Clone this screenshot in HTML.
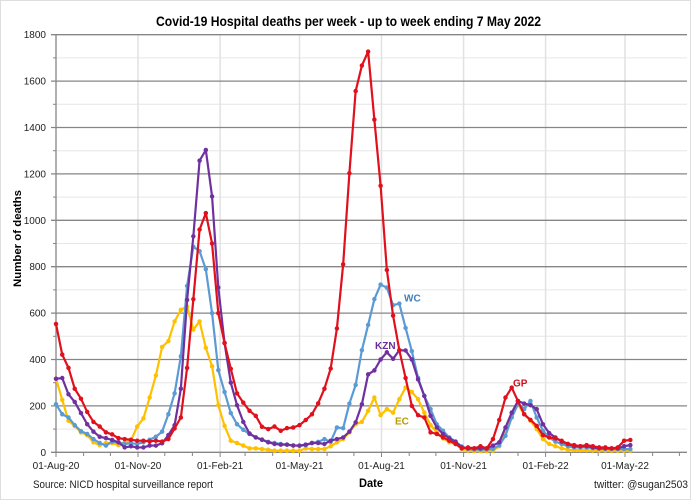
<!DOCTYPE html>
<html><head><meta charset="utf-8"><style>
html,body{margin:0;padding:0;background:#fff;}
svg{display:block;font-family:"Liberation Sans",Arial,sans-serif;}
</style></head><body>
<svg width="696" height="500" viewBox="0 0 696 500" xmlns="http://www.w3.org/2000/svg">
<rect x="0" y="0" width="696" height="500" fill="#fff"/>
<rect x="0.5" y="0.5" width="690" height="499" fill="none" stroke="#dedede" stroke-width="1"/>
<text x="156" y="25.8" font-size="14" font-weight="bold" fill="#000" textLength="385" lengthAdjust="spacingAndGlyphs">Covid-19 Hospital deaths per week - up to week ending 7 May 2022</text>
<!-- minor gridlines -->
<g stroke="#e6e6e6" stroke-width="1">
<line x1="56" x2="687" y1="429.1" y2="429.1"/><line x1="56" x2="687" y1="382.7" y2="382.7"/><line x1="56" x2="687" y1="336.3" y2="336.3"/><line x1="56" x2="687" y1="289.9" y2="289.9"/><line x1="56" x2="687" y1="243.5" y2="243.5"/><line x1="56" x2="687" y1="197.1" y2="197.1"/><line x1="56" x2="687" y1="150.7" y2="150.7"/><line x1="56" x2="687" y1="104.3" y2="104.3"/><line x1="56" x2="687" y1="57.9" y2="57.9"/>
</g>
<g stroke="#e2e2e2" stroke-width="1.5">
<line x1="138" x2="138" y1="34.7" y2="452.3"/><line x1="220.1" x2="220.1" y1="34.7" y2="452.3"/><line x1="299.5" x2="299.5" y1="34.7" y2="452.3"/><line x1="381.5" x2="381.5" y1="34.7" y2="452.3"/><line x1="463.6" x2="463.6" y1="34.7" y2="452.3"/><line x1="545.6" x2="545.6" y1="34.7" y2="452.3"/><line x1="625" x2="625" y1="34.7" y2="452.3"/>
</g>
<!-- major gridlines -->
<g stroke="#868686" stroke-width="1.3">
<line x1="51" x2="687" y1="405.9" y2="405.9"/><line x1="51" x2="687" y1="359.5" y2="359.5"/><line x1="51" x2="687" y1="313.1" y2="313.1"/><line x1="51" x2="687" y1="266.7" y2="266.7"/><line x1="51" x2="687" y1="220.3" y2="220.3"/><line x1="51" x2="687" y1="173.9" y2="173.9"/><line x1="51" x2="687" y1="127.5" y2="127.5"/><line x1="51" x2="687" y1="81.1" y2="81.1"/><line x1="51" x2="687" y1="34.7" y2="34.7"/>
<line x1="51" x2="687" y1="452.3" y2="452.3"/>
<line x1="56" x2="56" y1="34.7" y2="452.3"/>
</g>
<!-- minor y ticks -->
<g stroke="#868686" stroke-width="1">
<line x1="53" x2="56" y1="429.1" y2="429.1"/><line x1="53" x2="56" y1="382.7" y2="382.7"/><line x1="53" x2="56" y1="336.3" y2="336.3"/><line x1="53" x2="56" y1="289.9" y2="289.9"/><line x1="53" x2="56" y1="243.5" y2="243.5"/><line x1="53" x2="56" y1="197.1" y2="197.1"/><line x1="53" x2="56" y1="150.7" y2="150.7"/><line x1="53" x2="56" y1="104.3" y2="104.3"/><line x1="53" x2="56" y1="57.9" y2="57.9"/>
</g>
<!-- x ticks -->
<g stroke="#868686" stroke-width="1">
<line x1="56" x2="56" y1="452" y2="457"/><line x1="83.6" x2="83.6" y1="452" y2="456"/><line x1="110.4" x2="110.4" y1="452" y2="456"/><line x1="138" x2="138" y1="452" y2="457"/><line x1="164.8" x2="164.8" y1="452" y2="456"/><line x1="192.4" x2="192.4" y1="452" y2="456"/><line x1="220.1" x2="220.1" y1="452" y2="457"/><line x1="245.1" x2="245.1" y1="452" y2="456"/><line x1="272.7" x2="272.7" y1="452" y2="456"/><line x1="299.5" x2="299.5" y1="452" y2="457"/><line x1="327.1" x2="327.1" y1="452" y2="456"/><line x1="353.9" x2="353.9" y1="452" y2="456"/><line x1="381.5" x2="381.5" y1="452" y2="457"/><line x1="409.2" x2="409.2" y1="452" y2="456"/><line x1="435.9" x2="435.9" y1="452" y2="456"/><line x1="463.6" x2="463.6" y1="452" y2="457"/><line x1="490.3" x2="490.3" y1="452" y2="456"/><line x1="518" x2="518" y1="452" y2="456"/><line x1="545.6" x2="545.6" y1="452" y2="457"/><line x1="570.6" x2="570.6" y1="452" y2="456"/><line x1="598.2" x2="598.2" y1="452" y2="456"/><line x1="625" x2="625" y1="452" y2="457"/><line x1="652.6" x2="652.6" y1="452" y2="456"/><line x1="679.4" x2="679.4" y1="452" y2="456"/>
</g>
<!-- y labels -->
<g font-size="10" fill="#222" text-anchor="end">
<text x="46" y="455.8">0</text><text x="46" y="409.4">200</text><text x="46" y="363">400</text><text x="46" y="316.6">600</text><text x="46" y="270.2">800</text><text x="46" y="223.8">1000</text><text x="46" y="177.4">1200</text><text x="46" y="131">1400</text><text x="46" y="84.6">1600</text><text x="46" y="38.2">1800</text>
</g>
<!-- x labels -->
<g font-size="10" fill="#222" text-anchor="middle">
<text x="56" y="469">01-Aug-20</text><text x="138" y="469">01-Nov-20</text><text x="220.1" y="469">01-Feb-21</text><text x="299.5" y="469">01-May-21</text><text x="381.5" y="469">01-Aug-21</text><text x="463.6" y="469">01-Nov-21</text><text x="545.6" y="469">01-Feb-22</text><text x="625" y="469">01-May-22</text>
</g>
<text transform="translate(21,287) rotate(-90)" font-size="11" font-weight="bold" fill="#000" textLength="97" lengthAdjust="spacingAndGlyphs">Number of deaths</text>
<text x="359" y="487" font-size="12" font-weight="bold" fill="#000" textLength="24" lengthAdjust="spacingAndGlyphs">Date</text>
<text x="33" y="488" font-size="11" fill="#222" textLength="180" lengthAdjust="spacingAndGlyphs">Source: NICD hospital surveillance report</text>
<text x="594" y="488" font-size="11" fill="#222" textLength="94" lengthAdjust="spacingAndGlyphs">twitter: @sugan2503</text>
<!-- series -->
<g transform="translate(56,452.3) scale(6.2426,-0.232)" fill="none" stroke-linejoin="round">
<polyline vector-effect="non-scaling-stroke" stroke="#ffc000" stroke-width="2.2" points="0,317 1,226 2,136 3,114 4,86 5,74 6,43 7,31 8,40 9,40 10,31 11,43 12,50 13,111 14,146 15,236 16,331 17,454 18,479 19,564 20,614 21,629 22,529 23,564 24,450 25,371 26,203 27,114 28,50 29,40 30,29 31,17 32,17 33,14 34,11 35,7 36,7 37,7 38,7 39,7 40,17 41,14 42,14 43,14 44,26 45,43 46,57 47,86 48,121 49,131 50,179 51,236 52,160 53,186 54,171 55,229 56,279 57,260 58,229 59,171 60,117 61,86 62,60 63,43 64,36 65,15 66,7 67,5 68,5 69,5 70,7 71,26 72,93 73,157 74,207 75,164 76,136 77,100 78,57 79,36 80,26 81,17 82,11 83,10 84,9 85,9 86,8 87,8 88,8 89,7 90,7 91,7 92,7"/>
<path vector-effect="non-scaling-stroke" stroke="#ffc000" stroke-width="4.5" stroke-linecap="round" d="M0,317h0M1,226h0M2,136h0M3,114h0M4,86h0M5,74h0M6,43h0M7,31h0M8,40h0M9,40h0M10,31h0M11,43h0M12,50h0M13,111h0M14,146h0M15,236h0M16,331h0M17,454h0M18,479h0M19,564h0M20,614h0M21,629h0M22,529h0M23,564h0M24,450h0M25,371h0M26,203h0M27,114h0M28,50h0M29,40h0M30,29h0M31,17h0M32,17h0M33,14h0M34,11h0M35,7h0M36,7h0M37,7h0M38,7h0M39,7h0M40,17h0M41,14h0M42,14h0M43,14h0M44,26h0M45,43h0M46,57h0M47,86h0M48,121h0M49,131h0M50,179h0M51,236h0M52,160h0M53,186h0M54,171h0M55,229h0M56,279h0M57,260h0M58,229h0M59,171h0M60,117h0M61,86h0M62,60h0M63,43h0M64,36h0M65,15h0M66,7h0M67,5h0M68,5h0M69,5h0M70,7h0M71,26h0M72,93h0M73,157h0M74,207h0M75,164h0M76,136h0M77,100h0M78,57h0M79,36h0M80,26h0M81,17h0M82,11h0M83,10h0M84,9h0M85,9h0M86,8h0M87,8h0M88,8h0M89,7h0M90,7h0M91,7h0M92,7h0"/>
<polyline vector-effect="non-scaling-stroke" stroke="#5b9bd5" stroke-width="2.2" points="0,207 1,164 2,150 3,117 4,91 5,79 6,57 7,40 8,29 9,46 10,43 11,36 12,39 13,36 14,43 15,54 16,67 17,89 18,164 19,254 20,414 21,717 22,886 23,867 24,789 25,600 26,354 27,260 28,169 29,121 30,97 31,79 32,65 33,55 34,45 35,40 36,36 37,33 38,30 39,28 40,30 41,40 42,45 43,57 44,45 45,107 46,104 47,210 48,290 49,440 50,549 51,660 52,723 53,710 54,634 55,641 56,536 57,436 58,321 59,243 60,186 61,121 62,93 63,64 64,46 65,25 66,15 67,12 68,12 69,12 70,15 71,30 72,71 73,150 74,207 75,186 76,221 77,150 78,93 79,64 80,46 81,36 82,26 83,21 84,21 85,21 86,18 87,17 88,15 89,14 90,14 91,14 92,14"/>
<path vector-effect="non-scaling-stroke" stroke="#5b9bd5" stroke-width="4.5" stroke-linecap="round" d="M0,207h0M1,164h0M2,150h0M3,117h0M4,91h0M5,79h0M6,57h0M7,40h0M8,29h0M9,46h0M10,43h0M11,36h0M12,39h0M13,36h0M14,43h0M15,54h0M16,67h0M17,89h0M18,164h0M19,254h0M20,414h0M21,717h0M22,886h0M23,867h0M24,789h0M25,600h0M26,354h0M27,260h0M28,169h0M29,121h0M30,97h0M31,79h0M32,65h0M33,55h0M34,45h0M35,40h0M36,36h0M37,33h0M38,30h0M39,28h0M40,30h0M41,40h0M42,45h0M43,57h0M44,45h0M45,107h0M46,104h0M47,210h0M48,290h0M49,440h0M50,549h0M51,660h0M52,723h0M53,710h0M54,634h0M55,641h0M56,536h0M57,436h0M58,321h0M59,243h0M60,186h0M61,121h0M62,93h0M63,64h0M64,46h0M65,25h0M66,15h0M67,12h0M68,12h0M69,12h0M70,15h0M71,30h0M72,71h0M73,150h0M74,207h0M75,186h0M76,221h0M77,150h0M78,93h0M79,64h0M80,46h0M81,36h0M82,26h0M83,21h0M84,21h0M85,21h0M86,18h0M87,17h0M88,15h0M89,14h0M90,14h0M91,14h0M92,14h0"/>
<polyline vector-effect="non-scaling-stroke" stroke="#7030a0" stroke-width="2.2" points="0,317 1,320 2,250 3,217 4,169 5,121 6,89 7,67 8,61 9,53 10,43 11,21 12,26 13,21 14,21 15,29 16,29 17,39 18,74 19,117 20,274 21,657 22,931 23,1257 24,1303 25,1103 26,710 27,471 28,300 29,203 30,131 31,81 32,64 33,54 34,43 35,36 36,33 37,33 38,29 39,29 40,33 41,40 42,40 43,36 44,50 45,57 46,64 47,89 48,129 49,207 50,336 51,353 52,400 53,431 54,403 55,440 56,439 57,400 58,314 59,243 60,157 61,107 62,79 63,60 64,46 65,21 66,17 67,17 68,17 69,17 70,29 71,43 72,107 73,171 74,221 75,210 76,203 77,186 78,121 79,83 80,64 81,46 82,36 83,26 84,26 85,26 86,21 87,17 88,17 89,17 90,17 91,26 92,31"/>
<path vector-effect="non-scaling-stroke" stroke="#7030a0" stroke-width="4.5" stroke-linecap="round" d="M0,317h0M1,320h0M2,250h0M3,217h0M4,169h0M5,121h0M6,89h0M7,67h0M8,61h0M9,53h0M10,43h0M11,21h0M12,26h0M13,21h0M14,21h0M15,29h0M16,29h0M17,39h0M18,74h0M19,117h0M20,274h0M21,657h0M22,931h0M23,1257h0M24,1303h0M25,1103h0M26,710h0M27,471h0M28,300h0M29,203h0M30,131h0M31,81h0M32,64h0M33,54h0M34,43h0M35,36h0M36,33h0M37,33h0M38,29h0M39,29h0M40,33h0M41,40h0M42,40h0M43,36h0M44,50h0M45,57h0M46,64h0M47,89h0M48,129h0M49,207h0M50,336h0M51,353h0M52,400h0M53,431h0M54,403h0M55,440h0M56,439h0M57,400h0M58,314h0M59,243h0M60,157h0M61,107h0M62,79h0M63,60h0M64,46h0M65,21h0M66,17h0M67,17h0M68,17h0M69,17h0M70,29h0M71,43h0M72,107h0M73,171h0M74,221h0M75,210h0M76,203h0M77,186h0M78,121h0M79,83h0M80,64h0M81,46h0M82,36h0M83,26h0M84,26h0M85,26h0M86,21h0M87,17h0M88,17h0M89,17h0M90,17h0M91,26h0M92,31h0"/>
<polyline vector-effect="non-scaling-stroke" stroke="#e0101c" stroke-width="2.2" points="0,553 1,421 2,364 3,274 4,231 5,174 6,131 7,111 8,86 9,77 10,61 11,57 12,54 13,50 14,50 15,47 16,50 17,46 18,57 19,103 20,150 21,364 22,660 23,960 24,1031 25,900 26,600 27,471 28,360 29,254 30,214 31,179 32,157 33,110 34,100 35,111 36,93 37,104 38,107 39,117 40,139 41,164 42,211 43,274 44,361 45,534 46,810 47,1203 48,1557 49,1667 50,1727 51,1434 52,1149 53,786 54,589 55,440 56,320 57,200 58,160 59,150 60,86 61,79 62,64 63,50 64,36 65,17 66,21 67,17 68,26 69,17 70,57 71,139 72,236 73,279 74,221 75,164 76,140 77,114 78,74 79,64 80,60 81,50 82,36 83,31 84,26 85,31 86,26 87,21 88,21 89,17 90,21 91,50 92,53"/>
<path vector-effect="non-scaling-stroke" stroke="#e0101c" stroke-width="4.5" stroke-linecap="round" d="M0,553h0M1,421h0M2,364h0M3,274h0M4,231h0M5,174h0M6,131h0M7,111h0M8,86h0M9,77h0M10,61h0M11,57h0M12,54h0M13,50h0M14,50h0M15,47h0M16,50h0M17,46h0M18,57h0M19,103h0M20,150h0M21,364h0M22,660h0M23,960h0M24,1031h0M25,900h0M26,600h0M27,471h0M28,360h0M29,254h0M30,214h0M31,179h0M32,157h0M33,110h0M34,100h0M35,111h0M36,93h0M37,104h0M38,107h0M39,117h0M40,139h0M41,164h0M42,211h0M43,274h0M44,361h0M45,534h0M46,810h0M47,1203h0M48,1557h0M49,1667h0M50,1727h0M51,1434h0M52,1149h0M53,786h0M54,589h0M55,440h0M56,320h0M57,200h0M58,160h0M59,150h0M60,86h0M61,79h0M62,64h0M63,50h0M64,36h0M65,17h0M66,21h0M67,17h0M68,26h0M69,17h0M70,57h0M71,139h0M72,236h0M73,279h0M74,221h0M75,164h0M76,140h0M77,114h0M78,74h0M79,64h0M80,60h0M81,50h0M82,36h0M83,31h0M84,26h0M85,31h0M86,26h0M87,21h0M88,21h0M89,17h0M90,21h0M91,50h0M92,53h0"/>
</g>
<!-- series labels -->
<g font-size="10" font-weight="bold">
<text x="513" y="386.5" fill="#d0101c">GP</text>
<text x="375" y="349" fill="#6a2c9a">KZN</text>
<text x="404" y="301.5" fill="#3f7fb8">WC</text>
<text x="395" y="424.5" fill="#b89c00">EC</text>
</g>
</svg>
</body></html>
